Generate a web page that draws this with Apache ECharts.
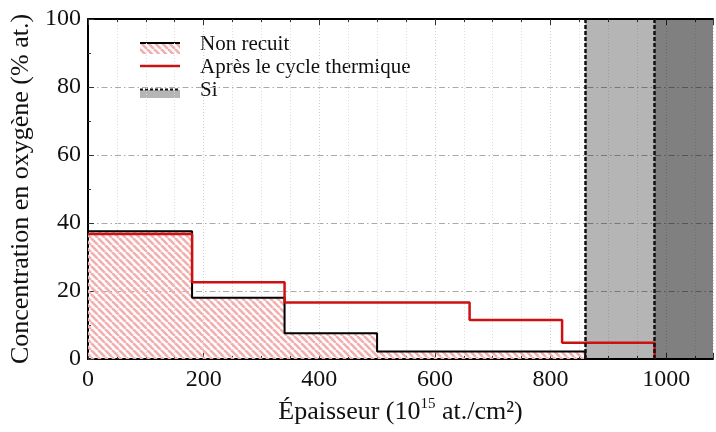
<!DOCTYPE html>
<html>
<head>
<meta charset="utf-8">
<script src="https://cdn.jsdelivr.net/npm/echarts@6/dist/echarts.min.js"></script>
<style>
  html, body { margin: 0; padding: 0; background: #fff; }
  #chart { width: 716px; height: 432px; }
</style>
</head>
<body>
<div id="chart"></div>
<script>
// Oxygen depth profile: step edges (10^15 at./cm²) and concentrations (% at.)
const nonRecuitEdges = [0, 180, 340, 500, 860];
const nonRecuitValues = [37.6, 18.0, 7.6, 2.2];
const cycleEdges = [0, 180, 340, 660, 820, 980];
const cycleValues = [36.8, 22.6, 16.6, 11.5, 4.8];
// Silicon substrate boundaries
const siEdges = [860, 980];
const xMax = 1081;
const xTicks = [0, 200, 400, 600, 800, 1000];
const yTicks = [0, 20, 40, 60, 80, 100];

const serif = 'Liberation Serif, Times New Roman, serif';

// Turn edges + values into step points: each level runs until the next edge, then drops to 0
function stepPoints(edges, values) {
  const pts = [];
  for (let i = 0; i < values.length; i++) pts.push([edges[i], values[i]]);
  pts.push([edges[edges.length - 1], 0]);
  return pts;
}

// Diagonal pink hatch pattern
function hatchCanvas(size, color, width) {
  const c = document.createElement('canvas');
  c.width = size; c.height = size;
  const g = c.getContext('2d');
  g.strokeStyle = color;
  g.lineWidth = width;
  for (let k = -1; k <= 1; k++) {
    g.beginPath();
    g.moveTo(k * size, 0);
    g.lineTo(k * size + size, size);
    g.stroke();
  }
  return c;
}
const hatch = hatchCanvas(7, '#f3aeae', 2.6);

const chart = echarts.init(document.getElementById('chart'), null, { renderer: 'canvas' });

const gridLeft = 88, gridTop = 19, gridBottom = 73;

const option = {
  animation: false,
  backgroundColor: '#fff',
  grid: { left: gridLeft, right: 0, top: gridTop, bottom: gridBottom },
  xAxis: [{
    type: 'value',
    min: 0, max: xMax, interval: 200,
    position: 'bottom',
    axisLine: { show: true, onZero: false, lineStyle: { color: '#000', width: 2 } },
    axisTick: { show: true, inside: true, length: 6, lineStyle: { color: '#333', width: 1 } },
    minorTick: { show: true, splitNumber: 4, length: 3, lineStyle: { color: '#333' } },
    axisLabel: {
      color: '#111', fontFamily: serif, fontSize: 24, margin: 9,
      formatter: v => xTicks.includes(v) ? String(v) : ''
    },
    splitLine: { show: true, lineStyle: { color: '#cfcfcf', type: [1, 2], width: 1 } },
    minorSplitLine: { show: true, lineStyle: { color: '#dcdcdc', type: [1, 2], width: 1 } },
    name: '{a|Épaisseur (10}{s|15}{a| at./cm²)}',
    nameLocation: 'middle',
    nameGap: 38,
    nameTextStyle: {
      rich: {
        a: { fontFamily: serif, fontSize: 26, color: '#111', verticalAlign: 'bottom', lineHeight: 28 },
        s: { fontFamily: serif, fontSize: 15, color: '#111', verticalAlign: 'top', lineHeight: 28, padding: [0, 0, 12, 0] }
      }
    }
  }, {
    type: 'value',
    min: 0, max: xMax, interval: 200,
    position: 'top',
    axisLine: { show: true, onZero: false, lineStyle: { color: '#000', width: 2 } },
    axisTick: { show: true, inside: true, length: 6, lineStyle: { color: '#333' } },
    minorTick: { show: true, splitNumber: 4, length: 3, lineStyle: { color: '#333' } },
    axisLabel: { show: false },
    splitLine: { show: false }
  }],
  yAxis: {
    type: 'value',
    min: 0, max: 100, interval: 20,
    axisLine: { show: true, onZero: false, lineStyle: { color: '#000', width: 2 } },
    axisTick: { show: true, inside: true, length: 6, lineStyle: { color: '#333' } },
    minorTick: { show: true, splitNumber: 2, length: 3, lineStyle: { color: '#333' } },
    axisLabel: {
      color: '#111', fontFamily: serif, fontSize: 24, margin: 7,
      formatter: v => yTicks.includes(v) ? String(v) : ''
    },
    splitLine: { show: true, lineStyle: { color: '#aaaaaa', type: [6, 3, 1.5, 3], width: 1 } },
    name: 'Concentration en oxygène (% at.)',
    nameLocation: 'middle',
    nameGap: 53,
    nameTextStyle: { fontFamily: serif, fontSize: 26, color: '#111' }
  },
  series: [
    {
      // Si substrate: translucent bands, overlapping beyond the second boundary
      name: 'Si',
      type: 'line',
      data: [],
      silent: true,
      markArea: {
        silent: true,
        itemStyle: { color: 'rgba(0,0,0,0.29)' },
        data: [
          [{ xAxis: siEdges[0] }, { xAxis: xMax }],
          [{ xAxis: siEdges[1] }, { xAxis: xMax }]
        ]
      },
      markLine: {
        silent: true,
        symbol: 'none',
        label: { show: false },
        lineStyle: { color: '#111', type: [4, 2], width: 2.5 },
        data: [{ xAxis: siEdges[0] }, { xAxis: siEdges[1] }]
      }
    },
    {
      name: 'Non recuit',
      type: 'line',
      step: 'end',
      symbol: 'none',
      data: stepPoints(nonRecuitEdges, nonRecuitValues),
      lineStyle: { color: '#000', width: 2 },
      areaStyle: { color: { image: hatch, repeat: 'repeat' }, opacity: 1 },
      z: 3
    },
    {
      name: 'Après le cycle thermique',
      type: 'line',
      step: 'end',
      symbol: 'none',
      data: stepPoints(cycleEdges, cycleValues),
      lineStyle: { color: '#cc1111', width: 2.5 },
      z: 4
    }
  ],
  graphic: [
    // legend swatches
    { type: 'rect', shape: { x: 140, y: 44, width: 40, height: 10 }, style: { fill: { image: hatch, repeat: 'repeat' } } },
    { type: 'line', shape: { x1: 140, y1: 43, x2: 180, y2: 43 }, style: { stroke: '#000', lineWidth: 2 } },
    { type: 'line', shape: { x1: 140, y1: 66, x2: 180, y2: 66 }, style: { stroke: '#cc1111', lineWidth: 2.5 } },
    { type: 'rect', shape: { x: 140, y: 90, width: 40, height: 8 }, style: { fill: 'rgba(0,0,0,0.29)' } },
    { type: 'line', shape: { x1: 140, y1: 89.5, x2: 180, y2: 89.5 }, style: { stroke: '#111', lineWidth: 2, lineDash: [3, 2] } },
    // legend labels
    { type: 'text', x: 200, y: 44, style: { text: 'Non recuit', font: '21px ' + serif, fill: '#111', verticalAlign: 'middle' } },
    { type: 'text', x: 200, y: 67, style: { text: 'Après le cycle thermique', font: '21px ' + serif, fill: '#111', verticalAlign: 'middle' } },
    { type: 'text', x: 200, y: 90, style: { text: 'Si', font: '21px ' + serif, fill: '#111', verticalAlign: 'middle' } }
  ]
};

chart.setOption(option);
</script>
</body>
</html>
